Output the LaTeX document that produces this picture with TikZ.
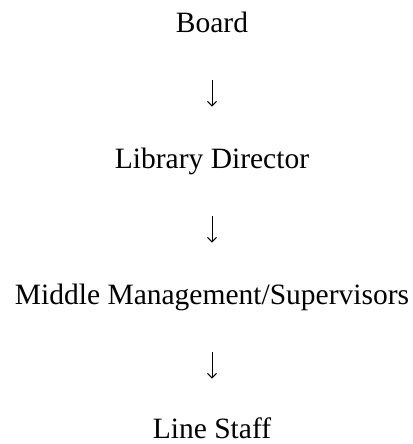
\documentclass[tikz,border=0pt]{standalone}
\usepackage{fontspec}
\setmainfont{Liberation Serif}
\usetikzlibrary{arrows.meta}

\begin{document}
\begin{tikzpicture}[x=1bp,y=1bp]
        % Define styles
        \tikzset{level/.style={inner sep=0pt, anchor=south, text height=20bp, text depth=0pt,
                font=\fontsize{29.5bp}{35bp}\selectfont},
            down/.style={line width=1bp, -{Straight Barb[length=4.5bp,width=9bp]},
                shorten <=47bp, shorten >=42bp}}

        % Fix the page
        \useasboundingbox (0,0) rectangle (412,444);

        % Draw the levels
        \node[level] (board) at (212,411) {Board};
        \node[level] (director) at (212,275) {Library Director};
        \node[level] (middle) at (212,139) {Middle Management/Supervisors};
        \node[level] (staff) at (212,5) {Line Staff};

        % Draw arrows
        \draw[down] (board.south) -- (director.north);
        \draw[down] (director.south) -- (middle.north);
        \draw[down, shorten >=40bp] (middle.south) -- (staff.north);
    \end{tikzpicture}
\end{document}
